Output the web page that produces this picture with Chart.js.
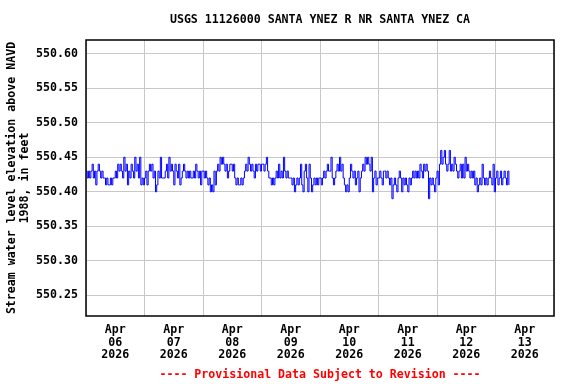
<!DOCTYPE html>
<html>
<head>
<meta charset="utf-8">
<script src="https://cdn.jsdelivr.net/npm/chart.js@4.4.1/dist/chart.umd.min.js"></script>
<style>
  html, body { margin: 0; padding: 0; background: #fff; }
</style>
</head>
<body>
<canvas id="myChart" width="576" height="384"></canvas>
<script>
const chartTitle = 'USGS 11126000 SANTA YNEZ R NR SANTA YNEZ CA';
const yTitle = ['Stream water level elevation above NAVD', '1988, in feet'];
const footerText = '---- Provisional Data Subject to Revision ----';
const dayLabels = [
    ['Apr', '06', '2026'], ['Apr', '07', '2026'], ['Apr', '08', '2026'], ['Apr', '09', '2026'],
    ['Apr', '10', '2026'], ['Apr', '11', '2026'], ['Apr', '12', '2026'], ['Apr', '13', '2026']
];
const yTicks = [550.25, 550.30, 550.35, 550.40, 550.45, 550.50, 550.55, 550.60];

// half-hourly gage height readings, starting at 00:00 each day
const apr06 = [550.43,550.42,550.43,550.42,550.43,550.44,550.42,550.43,550.41,550.43,550.44,550.43,550.42,550.43,550.42,550.42,
    550.41,550.42,550.41,550.41,550.42,550.41,550.42,550.42,550.43,550.42,550.44,550.43,550.44,550.43,550.42,550.45,
    550.43,550.44,550.41,550.43,550.42,550.44,550.43,550.42,550.45,550.43,550.44,550.42,550.45,550.41,550.42,550.41];
const apr07 = [550.42,550.43,550.41,550.43,550.44,550.43,550.44,550.42,550.43,550.40,550.41,550.43,550.42,550.45,550.42,550.42,
    550.42,550.43,550.44,550.42,550.45,550.43,550.44,550.43,550.41,550.44,550.43,550.42,550.44,550.41,550.42,550.43,
    550.44,550.43,550.42,550.43,550.42,550.43,550.42,550.42,550.43,550.42,550.44,550.43,550.42,550.43,550.41,550.43];
const apr08 = [550.43,550.42,550.43,550.42,550.41,550.42,550.40,550.41,550.40,550.43,550.41,550.43,550.44,550.43,550.45,550.44,
    550.45,550.44,550.43,550.44,550.42,550.43,550.44,550.44,550.43,550.44,550.42,550.41,550.42,550.41,550.41,550.42,
    550.41,550.42,550.43,550.44,550.43,550.45,550.44,550.43,550.44,550.43,550.42,550.44,550.43,550.44,550.44,550.43];
const apr09 = [550.44,550.44,550.43,550.44,550.45,550.43,550.42,550.42,550.41,550.42,550.41,550.42,550.43,550.42,550.44,550.42,
    550.43,550.42,550.45,550.43,550.42,550.43,550.42,550.42,550.42,550.41,550.42,550.40,550.41,550.42,550.41,550.42,
    550.44,550.41,550.40,550.43,550.44,550.42,550.40,550.44,550.42,550.40,550.41,550.42,550.41,550.42,550.41,550.42];
const apr10 = [550.42,550.41,550.42,550.43,550.42,550.43,550.44,550.43,550.43,550.45,550.42,550.41,550.42,550.43,550.44,550.43,
    550.45,550.43,550.44,550.42,550.41,550.40,550.41,550.40,550.42,550.44,550.43,550.42,550.43,550.41,550.42,550.43,
    550.40,550.42,550.43,550.44,550.43,550.45,550.44,550.45,550.44,550.43,550.45,550.40,550.42,550.43,550.41,550.42];
const apr11 = [550.42,550.43,550.42,550.41,550.43,550.43,550.42,550.43,550.42,550.41,550.42,550.39,550.41,550.42,550.41,550.40,
    550.42,550.43,550.42,550.40,550.42,550.41,550.42,550.41,550.40,550.42,550.41,550.42,550.43,550.42,550.43,550.42,
    550.43,550.42,550.44,550.43,550.42,550.44,550.43,550.44,550.43,550.39,550.42,550.41,550.42,550.41,550.40,550.42];
const apr12 = [550.43,550.41,550.44,550.46,550.44,550.45,550.46,550.44,550.43,550.44,550.46,550.43,550.44,550.43,550.45,550.44,
    550.43,550.42,550.43,550.44,550.42,550.44,550.42,550.45,550.43,550.44,550.43,550.42,550.43,550.42,550.43,550.41,
    550.42,550.40,550.41,550.42,550.41,550.44,550.42,550.41,550.42,550.41,550.42,550.43,550.42,550.41,550.44,550.40];
const apr13 = [550.42,550.43,550.41,550.42,550.43,550.41,550.42,550.43,550.42,550.41,550.43,550.41];

const days = [apr06, apr07, apr08, apr09, apr10, apr11, apr12, apr13];
const points = [];
days.forEach((day, d) => {
    day.forEach((v, i) => points.push({ x: d * 24 + i * 0.5, y: v }));
});

const monoFont = { family: '"DejaVu Sans Mono", monospace', size: 11.6, weight: 'bold' };
const gridGrey = '#c8c8c8';

// frame + title + footer + y title
const decorations = {
    id: 'decorations',
    afterDraw(chart) {
        const { ctx, chartArea: a } = chart;
        ctx.save();
        ctx.strokeStyle = '#000';
        ctx.lineWidth = 1.5;
        ctx.strokeRect(a.left, a.top, a.right - a.left, a.bottom - a.top);
        const cx = (a.left + a.right) / 2;
        ctx.font = 'bold 11.6px "DejaVu Sans Mono", monospace';
        ctx.textAlign = 'center';
        ctx.textBaseline = 'middle';
        ctx.fillStyle = '#000';
        ctx.fillText(chartTitle, cx, 20);
        ctx.fillStyle = '#ff0000';
        ctx.fillText(footerText, cx, 375);
        ctx.fillStyle = '#000';
        ctx.translate(0, (a.top + a.bottom) / 2);
        ctx.rotate(-Math.PI / 2);
        ctx.fillText(yTitle[0], 0, 12);
        ctx.fillText(yTitle[1], 0, 25);
        ctx.restore();
    }
};

new Chart(document.getElementById('myChart'), {
    type: 'line',
    data: {
        datasets: [{
            data: points,
            borderColor: '#0000ff',
            borderWidth: 1,
            pointRadius: 0,
            stepped: true,
            fill: false
        }]
    },
    options: {
        responsive: false,
        animation: false,
        devicePixelRatio: 1,
        layout: { padding: { top: 40, right: 22, left: 0, bottom: 0 } },
        plugins: { legend: { display: false }, title: { display: false }, tooltip: { enabled: false } },
        scales: {
            x: {
                type: 'linear',
                min: 0,
                max: 192,
                afterBuildTicks: s => {
                    s.ticks = [];
                    for (let h = 0; h <= 192; h += 12) s.ticks.push({ value: h });
                },
                afterFit: s => { s.height = 68; },
                border: { display: false },
                grid: {
                    drawTicks: false,
                    color: c => (c.tick && c.tick.value % 24 === 0) ? gridGrey : 'rgba(0,0,0,0)'
                },
                ticks: {
                    autoSkip: false,
                    maxRotation: 0,
                    padding: 8,
                    color: '#000',
                    font: Object.assign({ lineHeight: 1.08 }, monoFont),
                    callback: v => (v % 24 === 12) ? dayLabels[(v - 12) / 24] : ''
                }
            },
            y: {
                min: 550.22,
                max: 550.62,
                afterBuildTicks: s => { s.ticks = yTicks.map(v => ({ value: v })); },
                afterFit: s => { s.width = 86; },
                border: { display: false },
                grid: { drawTicks: false, color: gridGrey },
                ticks: {
                    padding: 8,
                    color: '#000',
                    font: monoFont,
                    callback: v => v.toFixed(2)
                }
            }
        }
    },
    plugins: [decorations]
});
</script>
</body>
</html>
